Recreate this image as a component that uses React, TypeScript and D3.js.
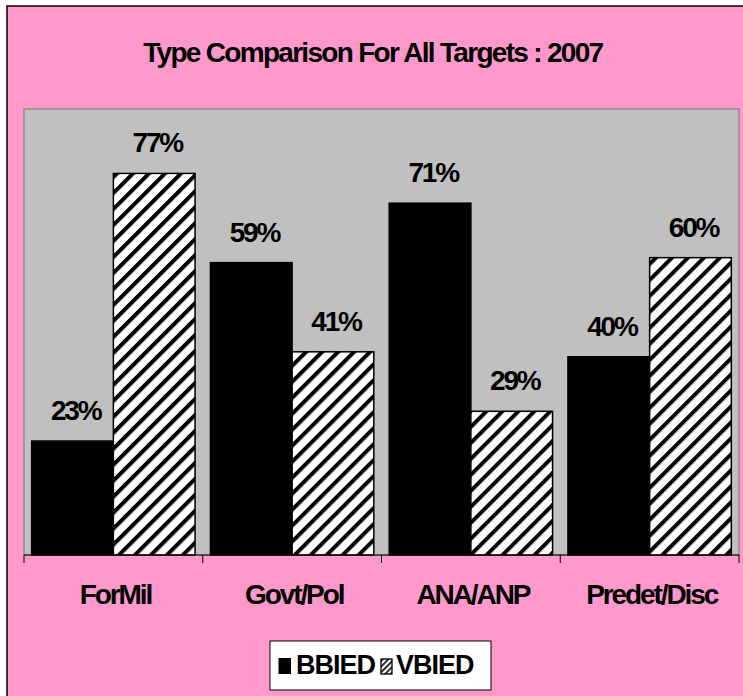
import React from "react";
import * as d3 from "d3";

const categories = ["ForMil", "Govt/Pol", "ANA/ANP", "Predet/Disc"];
const seriesNames = ["BBIED", "VBIED"];
const bbiedValues = [23, 59, 71, 40];
const vbiedValues = [77, 41, 29, 60];
const title = "Type Comparison For All Targets : 2007";

const W = 743;
const H = 696;
const plot = { left: 24, right: 739, top: 109, bottom: 555 };
const FONT = "'Liberation Sans', Arial, sans-serif";

function CText(props: {
  x: number;
  y: number;
  size: number;
  ls: number;
  anchor?: "start" | "middle" | "end";
  children: React.ReactNode;
}) {
  const { x, y, size, ls, anchor = "middle", children } = props;
  const shift = anchor === "middle" ? -ls / 2 : 0;
  return (
    <text
      x={x + shift}
      y={y}
      textAnchor={anchor}
      fontSize={size}
      fontWeight="bold"
      letterSpacing={ls}
      fill="#000"
    >
      {children}
    </text>
  );
}

export default function App() {
  const x0 = d3
    .scaleBand<string>()
    .domain(categories)
    .range([plot.left, plot.right])
    .paddingInner(0.086)
    .paddingOuter(0.043);
  const x1 = d3.scaleBand<string>().domain(seriesNames).range([0, x0.bandwidth()]).padding(0);
  const y = d3.scaleLinear().domain([0, 90]).range([plot.bottom, plot.top]);

  const series = [
    { name: seriesNames[0], values: bbiedValues, fill: "#000000" },
    { name: seriesNames[1], values: vbiedValues, fill: "url(#hatch)" },
  ];

  const catStep = (plot.right - plot.left) / categories.length;
  const ticks = d3.range(categories.length + 1).map((i) => plot.left + i * catStep);

  return (
    <svg
      width={W}
      height={H}
      style={{ position: "absolute", left: 0, top: 0, display: "block" }}
      fontFamily={FONT}
    >
      <defs>
        <pattern
          id="hatch"
          patternUnits="userSpaceOnUse"
          width={11.3}
          height={11.3}
          patternTransform="rotate(45)"
        >
          <rect width={11.3} height={11.3} fill="#ffffff" />
          <rect x={0} y={0} width={4} height={11.3} fill="#000000" />
        </pattern>
        <pattern
          id="hatchSmall"
          patternUnits="userSpaceOnUse"
          width={4}
          height={4}
          patternTransform="rotate(45)"
        >
          <rect width={4} height={4} fill="#ffffff" />
          <rect width={1.6} height={4} fill="#000000" />
        </pattern>
      </defs>
      <rect x={0} y={0} width={W} height={H} fill="#ffffff" />
      <rect x={7} y={6} width={W + 10} height={H + 10} fill="#FF99CC" stroke="#000" strokeWidth={1.5} />

      <CText x={372} y={62} size={28} ls={-1.7}>
        {title}
      </CText>

      {/* plot area */}
      <rect
        x={plot.left}
        y={plot.top}
        width={plot.right - plot.left}
        height={plot.bottom - plot.top}
        fill="#C0C0C0"
        stroke="#808080"
        strokeWidth={1.2}
      />

      {/* bars */}
      {series.map((s) =>
        categories.map((c, i) => {
          const bx = (x0(c) as number) + (x1(s.name) as number);
          const bw = x1.bandwidth();
          const by = y(s.values[i]);
          return (
            <g key={s.name + c}>
              <rect
                x={bx}
                y={by}
                width={bw}
                height={plot.bottom - by}
                fill={s.fill}
                stroke="#000"
                strokeWidth={1.5}
              />
              <CText x={bx + bw / 2 + 2} y={by - 21} size={28} ls={-2.2}>
                {s.values[i] + "%"}
              </CText>
            </g>
          );
        })
      )}

      {/* axis */}
      <line x1={plot.left} x2={plot.right} y1={plot.bottom} y2={plot.bottom} stroke="#000" strokeWidth={1} />
      {ticks.map((t, i) => (
        <line key={i} x1={t} x2={t} y1={plot.bottom} y2={plot.bottom + 8} stroke="#000" strokeWidth={1} />
      ))}
      {categories.map((c) => (
        <CText key={c} x={(x0(c) as number) + x0.bandwidth() / 2 + 1} y={604} size={28} ls={-2.1}>
          {c}
        </CText>
      ))}

      {/* legend */}
      <rect x={270} y={641} width={221} height={49} fill="#ffffff" stroke="#000" strokeWidth={1} />
      <rect x={278.5} y={658} width={12.5} height={16} fill="#000" />
      <CText x={296} y={674} size={27} ls={-1} anchor="start">
        {seriesNames[0]}
      </CText>
      <rect x={381} y={659} width={11} height={15} fill="url(#hatchSmall)" stroke="#000" strokeWidth={1.3} />
      <CText x={396} y={674} size={27} ls={-1} anchor="start">
        {seriesNames[1]}
      </CText>
    </svg>
  );
}
